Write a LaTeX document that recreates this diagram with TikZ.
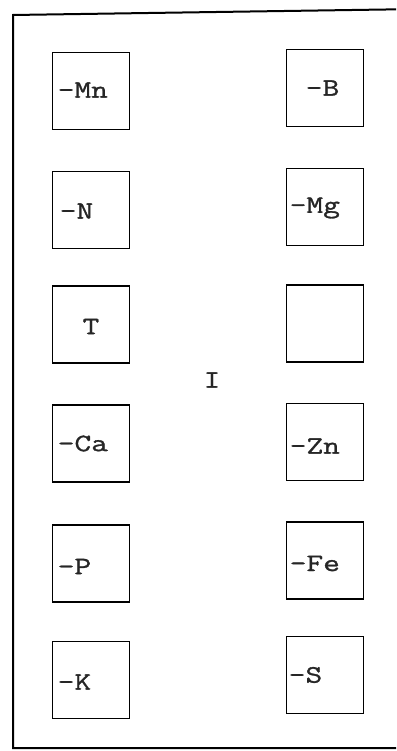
\documentclass[tikz,border=0pt]{standalone}
\usepackage{fontspec}
\newfontfamily\tw[FakeStretch=1.3,FakeBold=1.2]{Latin Modern Mono}
\begin{document}
\begin{tikzpicture}[x=1pt,y=-1pt,
  cell/.style={draw=black, line width=1.9pt, minimum width=77pt, minimum height=77pt, inner sep=0pt},
  lbl/.style={font=\tw\fontsize{25}{25}\selectfont, inner sep=0pt, text=black!85}]
\useasboundingbox (0,0) rectangle (396,751);
\clip (0,0) rectangle (396,751);
\fill[white] (0,0) rectangle (396,751);
% frame (right side runs off the page)
\draw[line width=2pt, black] (420,9) -- (13,15) -- (13,748) -- (420,748);
% left column
\node[cell] (mn) at (91,91) {};
\node[cell] (n)  at (91,210) {};
\node[cell] (t)  at (91,324.5) {};
\node[cell] (ca) at (91,443.5) {};
\node[cell] (p)  at (91,563.5) {};
\node[cell] (k)  at (91,680) {};
% right column
\node[cell] (b)  at (325,88) {};
\node[cell] (mg) at (325,207) {};
\node[cell] (e)  at (325,323.5) {};
\node[cell] (zn) at (325,442) {};
\node[cell] (fe) at (325,560.5) {};
\node[cell] (s)  at (325,675) {};
% labels
\node[lbl, anchor=west] (lmn) at ([xshift=6pt,yshift=1pt]mn.west) {-Mn};
\node[lbl, anchor=west] (ln)  at ([xshift=8pt,yshift=-1pt]n.west) {-N};
\node[lbl] (lt) at ([yshift=-2pt]t.center) {T};
\node[lbl, anchor=west] (lca) at ([xshift=6pt]ca.west) {-Ca};
\node[lbl, anchor=west] (lp)  at ([xshift=6pt,yshift=-3pt]p.west) {-P};
\node[lbl, anchor=west] (lk)  at ([xshift=6pt,yshift=-2pt]k.west) {-K};
\node[lbl, anchor=west] (lb)  at ([xshift=20pt]b.west) {-B};
\node[lbl, anchor=west] (lmg) at ([xshift=4pt,yshift=-1pt]mg.west) {-Mg};
\node[lbl, anchor=west] (lzn) at ([xshift=4pt,yshift=-4pt]zn.west) {-Zn};
\node[lbl, anchor=west] (lfe) at ([xshift=4pt,yshift=-3pt]fe.west) {-Fe};
\node[lbl, anchor=west] (ls)  at ([xshift=3pt]s.west) {-S};
\node[lbl] (roman) at (212,380) {I};
\end{tikzpicture}
\end{document}
